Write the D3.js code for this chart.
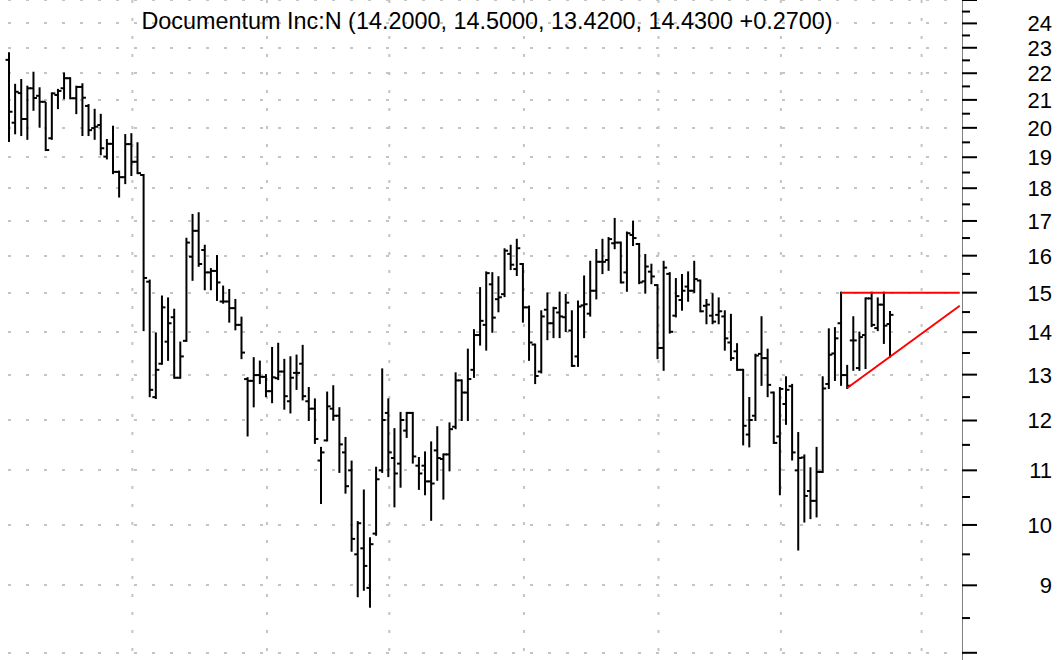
<!DOCTYPE html>
<html><head><meta charset="utf-8">
<script src="https://cdn.jsdelivr.net/npm/d3@7"></script>
<style>html,body{margin:0;padding:0;background:#fff;} svg{display:block;}</style>
</head><body>
<svg id="chart" width="1061" height="660"></svg>
<script>
const ticker = "Documentum Inc:N";
const opens = [22.52,20.18,21.25,20.31,21.43,21.15,20.93,19.64,21.18,21.43,21.81,21.06,21.48,20.78,19.99,20.10,19.02,19.45,18.52,18.35,19.44,18.85,18.42,15.29,12.50,13.25,13.77,14.37,12.93,13.79,15.97,16.71,16.16,15.54,15.58,14.77,14.77,14.60,14.18,12.90,12.86,12.99,12.95,12.63,12.92,13.07,12.41,13.04,13.25,12.41,12.25,11.19,11.59,12.25,12.10,11.35,11.00,9.50,9.60,8.96,9.85,11.00,12.16,11.24,11.13,11.79,12.16,11.09,11.09,10.79,11.39,11.22,11.31,11.87,12.87,12.60,13.11,13.93,14.18,15.22,14.83,14.96,16.05,15.63,15.77,14.62,13.70,13.07,14.56,14.22,14.49,14.37,14.04,13.42,14.67,14.46,15.05,15.83,15.88,16.35,16.37,15.54,16.59,16.33,15.30,15.56,15.20,13.62,15.50,14.41,14.81,15.16,15.05,15.32,14.66,14.41,14.43,14.39,13.75,13.54,13.11,11.71,12.10,13.48,13.38,12.60,11.67,12.35,12.74,11.00,11.25,10.61,10.43,10.97,12.79,13.49,14.22,12.99,13.80,13.15,13.93,14.85,14.10,14.69,14.20];
const highs = [22.78,21.56,21.74,21.49,22.02,21.43,20.89,21.24,21.37,21.99,21.81,21.49,21.58,20.81,20.64,20.46,19.58,20.04,18.53,19.75,19.78,19.47,18.42,15.32,13.97,14.90,14.85,14.56,13.75,16.48,17.18,17.23,16.28,15.63,15.99,15.16,15.07,14.81,14.36,12.92,13.38,13.30,12.99,13.62,13.72,13.34,13.40,13.44,13.67,12.70,12.45,11.44,12.60,12.74,12.26,11.64,11.17,10.05,10.62,9.77,11.05,13.12,12.45,11.82,12.16,12.16,12.16,11.24,11.35,11.55,11.86,11.31,11.94,13.03,12.87,13.58,14.05,15.12,15.54,15.52,15.41,16.18,16.28,16.45,15.77,14.64,13.70,14.52,14.98,14.61,15.00,14.94,14.52,14.77,15.43,15.83,16.16,16.45,16.50,17.06,16.37,16.66,16.98,16.33,16.02,15.75,15.20,15.83,15.52,15.36,15.47,15.54,15.83,15.32,14.81,14.96,14.85,14.52,14.43,13.71,13.11,12.48,13.46,14.37,13.58,12.60,12.70,12.94,12.77,11.74,11.29,11.04,11.44,12.94,14.07,14.10,15.00,13.20,14.37,13.99,14.85,15.00,14.85,15.00,14.50];
const lows = [19.55,19.81,19.75,19.62,20.64,20.04,19.24,19.62,20.70,21.06,21.06,20.52,19.75,19.75,19.62,19.10,18.96,18.48,17.74,18.16,18.42,18.48,14.05,12.52,12.48,13.25,13.34,12.93,12.93,13.79,15.34,15.72,15.09,15.09,14.81,14.74,14.26,14.07,13.38,11.69,12.30,12.81,12.52,12.39,12.90,12.25,12.17,12.68,12.45,12.01,11.54,10.39,11.59,12.02,10.97,10.58,9.56,8.83,8.93,8.67,9.83,10.97,10.89,10.33,10.69,11.66,11.15,10.65,10.55,10.09,10.82,10.47,11.00,11.84,12.01,12.01,12.95,13.70,13.58,14.01,14.52,14.91,15.63,15.47,14.26,13.34,12.81,13.05,13.83,13.88,13.88,14.03,13.20,13.20,13.88,14.41,14.85,15.52,15.61,16.21,15.27,15.05,16.30,15.25,15.00,15.25,13.38,13.11,13.99,14.39,14.56,14.79,15.02,14.52,14.22,14.22,14.22,13.58,13.34,13.11,11.51,11.47,12.01,12.77,12.52,11.54,10.55,11.93,11.21,9.58,10.06,10.12,10.15,10.97,12.70,12.88,12.77,12.70,13.11,13.11,13.15,14.15,14.05,13.74,13.42];
const closes = [20.57,21.30,20.31,21.43,21.07,20.93,19.24,21.24,21.33,21.81,21.06,21.48,21.08,19.92,20.04,19.30,19.45,18.52,18.35,19.44,18.85,18.48,15.39,12.66,13.11,14.62,14.22,12.93,13.42,16.37,16.71,15.77,15.54,15.58,15.27,14.77,14.60,14.18,13.51,12.86,12.99,12.95,12.63,12.94,13.07,12.52,12.93,13.04,12.52,12.25,11.62,11.35,12.30,12.10,11.51,10.70,9.76,10.03,9.31,9.67,10.83,12.01,11.35,10.94,12.01,12.16,11.27,10.94,10.79,10.75,11.24,11.31,11.82,12.87,12.60,12.90,13.93,14.28,15.52,14.36,14.88,16.14,15.75,16.21,14.62,13.75,12.97,14.39,14.22,14.60,14.39,14.74,13.20,14.64,14.70,15.05,15.83,15.83,16.47,16.37,15.27,16.64,16.50,15.27,15.70,15.43,13.62,15.67,14.01,14.91,15.05,15.05,15.36,14.52,14.69,14.26,14.52,13.85,13.38,13.11,11.89,12.01,13.44,13.38,12.77,11.54,12.68,12.66,11.35,11.24,10.52,10.43,10.97,12.69,13.46,13.85,12.99,12.75,13.80,13.88,14.85,14.18,14.69,14.16,14.43];
// first trading day of each month (bar index) for vertical grid
const monthStarts = [20, 42, 62, 84, 106, 126, 149];
const majorTicks = d3.range(8, 26);      // 8 .. 25
const labeledTicks = d3.range(9, 25);    // 9 .. 24
const minorTicks = d3.range(8.5, 25, 1); // 8.5 .. 24.5
// trend lines drawn on the chart: [bar index, price]
const resistanceLine = [[136, 15.00], [155.4, 15.00]];
const supportLine = [[137, 12.70], [155.4, 14.66]];

const W = 1061, H = 660, axisX = 962;
const svg = d3.select("#chart");
const n = opens.length;
const x = d3.scaleLinear().domain([0, n - 1]).range([9, 890]);
const y = d3.scaleLog().domain([7.9, 25]).range([H, 0]);
const font = "'Liberation Sans', Arial, Helvetica, sans-serif";

// grid
const grid = svg.append("g").attr("stroke", "#c4c4c4").attr("stroke-width", 2)
  .attr("stroke-dasharray", "3 15");
grid.selectAll("line.h").data(majorTicks).join("line").attr("class", "h")
  .attr("x1", 0).attr("x2", axisX).attr("stroke-dashoffset", 10)
  .attr("y1", d => Math.round(y(d))).attr("y2", d => Math.round(y(d)));
grid.selectAll("line.v").data(monthStarts).join("line").attr("class", "v")
  .attr("x1", d => x(d) + 1).attr("x2", d => x(d) + 1)
  .attr("y1", 0).attr("y2", H);

// OHLC bars
const data = d3.range(n).map(i => ({i, o: opens[i], h: highs[i], l: lows[i], c: closes[i]}));
const bars = svg.append("g").attr("stroke", "#000").attr("stroke-width", 2);
const tk = 3.5;
const bg = bars.selectAll("g").data(data).join("g");
bg.append("line").attr("x1", d => x(d.i)).attr("x2", d => x(d.i))
  .attr("y1", d => y(d.h) - 1).attr("y2", d => y(d.l) + 1);
bg.append("line").attr("x1", d => x(d.i) - tk).attr("x2", d => x(d.i))
  .attr("y1", d => y(d.o)).attr("y2", d => y(d.o));
bg.append("line").attr("x1", d => x(d.i)).attr("x2", d => x(d.i) + tk)
  .attr("y1", d => y(d.c)).attr("y2", d => y(d.c));

// trend lines
const lineGen = d3.line().x(d => x(d[0])).y(d => y(d[1]));
svg.append("g").selectAll("path").data([resistanceLine, supportLine]).join("path")
  .attr("d", lineGen).attr("fill", "none").attr("stroke", "#ff0000").attr("stroke-width", 2);

// right axis
const ax = svg.append("g");
ax.append("line").attr("x1", axisX + 0.5).attr("x2", axisX + 0.5).attr("y1", 0).attr("y2", H)
  .attr("stroke", "#808080").attr("stroke-width", 1);
ax.selectAll("line.maj").data(majorTicks).join("line").attr("class", "maj")
  .attr("x1", axisX).attr("x2", axisX + 15)
  .attr("y1", d => y(d)).attr("y2", d => y(d)).attr("stroke", "#000").attr("stroke-width", 2);
ax.selectAll("line.min").data(minorTicks).join("line").attr("class", "min")
  .attr("x1", axisX).attr("x2", axisX + 8)
  .attr("y1", d => y(d)).attr("y2", d => y(d)).attr("stroke", "#000").attr("stroke-width", 2);
ax.selectAll("text").data(labeledTicks).join("text")
  .attr("x", 1052).attr("y", d => y(d)).attr("dy", "0.36em")
  .attr("text-anchor", "end").attr("font-family", font).attr("font-size", 22)
  .attr("fill", "#000").text(d => d);

// title
const f4 = v => v.toFixed(4);
const last = n - 1;
const chg = closes[last] - closes[last - 1];
svg.append("text").attr("x", 487).attr("y", 28.5).attr("text-anchor", "middle")
  .attr("font-family", font).attr("font-size", 23.4).attr("fill", "#000")
  .text(`${ticker} (${f4(opens[last])}, ${f4(highs[last])}, ${f4(lows[last])}, ${f4(closes[last])} ${chg >= 0 ? "+" : ""}${f4(chg)})`);
</script>
</body></html>
